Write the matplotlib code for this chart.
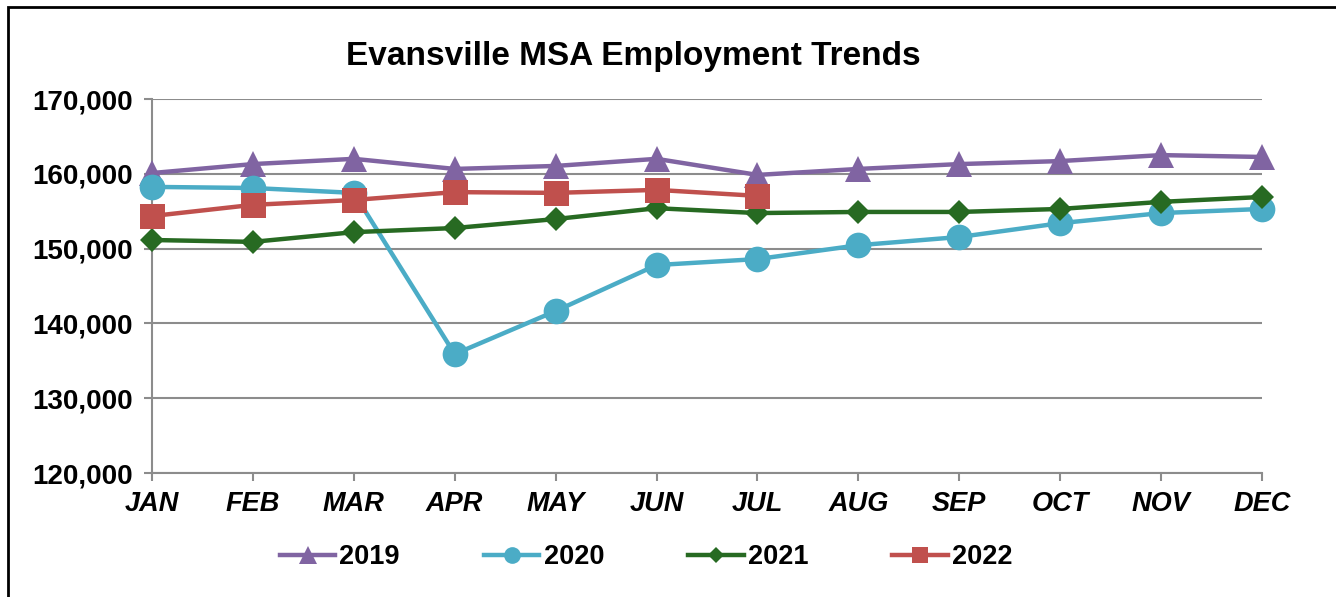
import matplotlib.pyplot as plt
from matplotlib.patches import Rectangle
from matplotlib.ticker import FuncFormatter

plt.rcParams["font.family"] = ["Liberation Sans", "DejaVu Sans"]

months = ["JAN", "FEB", "MAR", "APR", "MAY", "JUN",
          "JUL", "AUG", "SEP", "OCT", "NOV", "DEC"]

emp_2019 = [160100, 161300, 162000, 160650, 161050, 162000,
            159850, 160650, 161300, 161700, 162500, 162250]
emp_2020 = [158250, 158100, 157450, 135900, 141650, 147800,
            148600, 150450, 151550, 153400, 154750, 155300]
emp_2021 = [151150, 150900, 152200, 152750, 153950, 155400,
            154750, 154900, 154900, 155300, 156250, 156900]
emp_2022 = [154350, 155850, 156500, 157550, 157450, 157850, 157050]

series = [
    ("2019", emp_2019, "#8064A2", "^", 19),
    ("2020", emp_2020, "#4BACC6", "o", 18.5),
    ("2021", emp_2021, "#276A22", "D", 12),
    ("2022", emp_2022, "#C0504D", "s", 18),
]

fig = plt.figure(figsize=(13.36, 5.97), dpi=100)
ax = fig.add_axes([152 / 1336, 1 - 473 / 597, 1110 / 1336, 374 / 597])

for label, vals, color, marker, ms in series:
    ax.plot(range(len(vals)), vals, color=color, lw=3.2, marker=marker,
            markersize=ms, markeredgewidth=0, label=label, clip_on=False,
            zorder=3)

ax.set_xlim(0, 11)
ax.set_ylim(120000, 170000)
ax.set_yticks(range(120000, 170001, 10000))
ax.yaxis.set_major_formatter(FuncFormatter(lambda v, p: f"{int(v):,}"))
ax.set_xticks(range(12))
ax.set_xticklabels(months, fontsize=19.5, fontweight="bold", style="italic")
for t in ax.get_yticklabels():
    t.set_fontsize(20)
    t.set_fontweight("bold")

ax.grid(axis="y", color="#8C8C8C", lw=1.5, zorder=0)
for side in ["top", "right"]:
    ax.spines[side].set_visible(False)
for side in ["left", "bottom"]:
    ax.spines[side].set_color("#8C8C8C")
    ax.spines[side].set_linewidth(1.5)
ax.tick_params(axis="both", color="#8C8C8C", width=1.5, length=6,
               direction="out")
ax.tick_params(axis="x", pad=7)
ax.tick_params(axis="y", pad=8)

fig.text(633 / 1336, 1 - 57 / 597, "Evansville MSA Employment Trends",
         ha="center", va="center", fontsize=24, fontweight="bold")

fig.legend(loc="center", bbox_to_anchor=(646 / 1336, 1 - 557 / 597), ncol=4,
           frameon=False, prop={"size": 19.5, "weight": "bold"},
           handlelength=2.05, handletextpad=0.15, columnspacing=3.1,
           markerscale=0.65)

fig.patches.append(Rectangle((8 / 1336, -0.05), 1.1, 1.05 - 7 / 597,
                             transform=fig.transFigure, fill=False,
                             edgecolor="black", lw=2))

fig.savefig("out.png", dpi=100)
